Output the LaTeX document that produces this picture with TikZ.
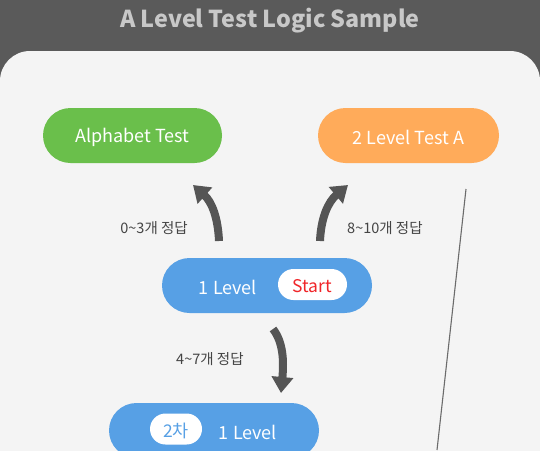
\documentclass[tikz,border=0pt]{standalone}
\usepackage{fontspec}
\setmainfont{Noto Sans CJK KR}
\usetikzlibrary{arrows.meta}
\definecolor{darkbg}{HTML}{5A5A5A}
\definecolor{panel}{HTML}{F4F4F4}
\definecolor{titlec}{HTML}{C8C8C8}
\definecolor{greenc}{HTML}{6ABF4B}
\definecolor{orangec}{HTML}{FFAB5A}
\definecolor{bluec}{HTML}{57A0E5}
\definecolor{arrowc}{HTML}{555555}
\definecolor{labelc}{HTML}{444444}
\definecolor{redc}{HTML}{F0262A}
\tikzset{
  pill/.style={rectangle, rounded corners=27.5pt, minimum width=#1, minimum height=55pt, inner sep=0pt, text=white, font=\fontsize{18}{20}\selectfont},
  tag/.style={rectangle, rounded corners=15.5pt, fill=white, minimum height=31pt, inner sep=0pt, font=\fontsize{17.5}{19}\selectfont},
  lbl/.style={text=labelc, font=\fontsize{14.5}{16}\selectfont, inner sep=0pt},
  bigarrow/.style={draw=arrowc, line width=8pt, -{Triangle[width=21pt,length=16pt]}},
  wtxt/.style={text=white, font=\fontsize{18}{20}\selectfont, inner sep=0pt},
}
\begin{document}
\begin{tikzpicture}[x=1pt,y=-1pt]
\useasboundingbox (0,0) rectangle (540,450);
\fill[darkbg] (0,0) rectangle (540,450);
\fill[panel, rounded corners=30pt] (0,51) rectangle (540,520);
\node[text=titlec, font=\fontsize{23.3}{25}\selectfont\bfseries] (title) at (270,21) {A Level Test Logic Sample};
\node[pill=179pt, fill=greenc] (alpha) at (132.5,135.5) {};
\node[wtxt] (alphalbl) at (132.5,137.5) {Alphabet Test};
\node[pill=181pt, fill=orangec] (lvl2) at (408.5,135.5) {};
\node[wtxt] (lvl2lbl) at (408.5,137.5) {2 Level Test A};
\node[pill=210pt, fill=bluec] (start) at (267,285.5) {};
\node[wtxt] (startlbl) at (228,287.5) {1 Level};
\node[tag, minimum width=69pt] (starttag) at (312.5,284.5) {};
\node[text=redc, font=\fontsize{17.5}{19}\selectfont, inner sep=0pt] (starttxt) at (312.5,286.5) {Start};
\node[pill=210pt, fill=bluec] (second) at (214,430.5) {};
\node[tag, minimum width=52pt] (secondtag) at (176,429) {};
\node[text=bluec, font=\fontsize{17.5}{19}\selectfont, inner sep=0pt] (secondtxt) at (176,431) {2차};
\node[wtxt] (secondlbl) at (248,432) {1 Level};
\coordinate (a1s) at (219,241);
\coordinate (a1e) at (193,185);
\coordinate (a2s) at (320,241);
\coordinate (a2e) at (348,185);
\coordinate (a3s) at (273,329);
\coordinate (a3e) at (281,393);
\draw[bigarrow] (a1s) .. controls (218,218) and (212,202) .. (a1e);
\draw[bigarrow] (a2s) .. controls (321,218) and (328,202) .. (a2e);
\draw[bigarrow] (a3s) .. controls (283,342) and (284,360) .. (a3e);
\node[lbl, anchor=east] (l1) at (188,228) {0\textasciitilde3개 정답};
\node[lbl, anchor=west] (l2) at (347,228) {8\textasciitilde10개 정답};
\node[lbl, anchor=west] (l3) at (176,359) {4\textasciitilde7개 정답};
\coordinate (ln1) at (466,189);
\coordinate (ln2) at (437,450);
\draw[draw=darkbg!90, line width=1.1pt] (ln1) -- (ln2);
\end{tikzpicture}
\end{document}
